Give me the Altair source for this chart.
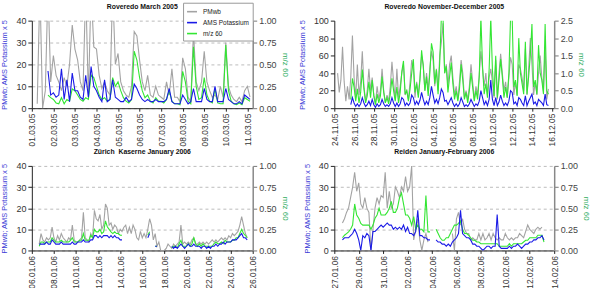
import altair as alt
import pandas as pd

FONT = "Liberation Sans"
GRAY = "#a3a3a3"
BLUE = "#1a1ae6"
GREEN = "#33e633"
TITLE_BLUE = "#3a3ad6"
TITLE_GREEN = "#2fae5f"

NAMES = ["PMwb", "AMS Potassium", "m/z 60"]
LEFT_TITLE = "PMwb; AMS Potassium x 5"
RIGHT_TITLE = "m/z 60"

# ---------------- Panel 1: Roveredo March 2005 (3-hour steps from 01.03.05 00:00)
p1_title = "Roveredo March 2005"
p1_start = "2005-03-01 00:00"
p1_step_h = 3
p1_pm = [
    None, None, 2, 55, 0, 8, 55, 12,
    24, 15, 12, 8, 14, 10, 20, 38,
    27, 22, 12, 8, 55, 5, 55, 28,
    27, 15, 9, 12, 8, 6, 55, 20,
    25, 12, 8, 6, 5, 10, 35, 33,
    22, 12, 8, 15, 6, 5, 10, 6,
    5, 4, 12, 6, 18, 5, 5, 3,
    23, 18, 5, 3, 35, 12, 8, 12,
    26, 12, 8, 5, 6, 4, 10, 5,
    30, 10, 6, 4, 3, 5, 3, 8,
    10, 5]
p1_k = [
    None, None, None, None, None, None, 17, 6,
    7, 5, 6, 18, 4, 13, 3, 16,
    8, 8, 5, 4, 15, 5, 19, 10,
    8, 5, 3, 13, 3, 4, 13, 5,
    4, 3, 3, 5, 3, 4, 11, 9,
    6, 4, 3, 4, 3, 3, 4, 3,
    3, 3, 4, 9, 3, 2, 2, 2,
    6, 4, 2, 3, 9, 3, 3, 3,
    9, 4, 3, 3, 10, 3, 3, 3,
    9, 4, 3, 2, 2, 3, 2, 6,
    5, 4]
p1_mz = [
    None, None, None, None, None, None, 0.15, 0.12,
    0.10, 0.06, 0.05, 0.12, 0.05, 0.10, 0.08, 0.22,
    0.20, 0.15, 0.10, 0.08, 0.12, 0.10, 0.38, 0.35,
    0.25, 0.15, 0.10, 0.12, 0.08, 0.10, 0.35, 0.25,
    0.30, 0.20, 0.12, 0.08, 0.06, 0.10, 0.65, 0.55,
    0.35, 0.20, 0.12, 0.15, 0.08, 0.06, 0.12, 0.08,
    0.08, 0.06, 0.10, 0.20, 0.08, 0.05, 0.05, 0.04,
    0.42, 0.30, 0.08, 0.05, 0.70, 0.25, 0.10, 0.12,
    0.35, 0.15, 0.08, 0.06, 0.22, 0.06, 0.05, 0.05,
    0.72, 0.20, 0.08, 0.05, 0.04, 0.06, 0.04, 0.12,
    0.10, 0.08]
p1_xdomain = ["2005-03-01 00:00", "2005-03-11 06:00"]
p1_xticks = ["2005-03-01", "2005-03-02", "2005-03-03", "2005-03-04", "2005-03-05",
             "2005-03-06", "2005-03-07", "2005-03-08", "2005-03-09", "2005-03-10",
             "2005-03-11"]

# ---------------- Panel 2: Roveredo November-December 2005 (4-hour steps)
p2_title = "Roveredo November-December 2005"
p2_start = "2005-11-24 00:00"
p2_step_h = 4
p2_pm = [
    None, None, 40, 18, 32, 70,
    30, 8, 25, 10, 35, 83,
    35, 12, 50, 15, 30, 65,
    25, 8, 20, 45, 20, 35,
    15, 5, 25, 10, 20, 45,
    20, 6, 15, 8, 25, 53,
    30, 10, 45, 12, 25, 40,
    50, 15, 20, 10, 30, 55,
    45, 12, 30, 15, 35, 60,
    50, 20, 40, 20, 45, 65,
    55, 25, 45, 20, 60, 75,
    97, 40, 50, 25, 50, 60,
    35, 15, 25, 10, 30, 55,
    40, 12, 20, 10, 25, 50,
    30, 10, 25, 15, 38, 65,
    45, 25, 40, 15, 35, 45,
    30, 12, 55, 10, 40, 62,
    40, 20, 30, 12, 35, 58,
    50, 15, 30, 15, 50, 45,
    35, 20, 68, 15, 45, 80,
    50, 15, 30, 15, 40, 60,
    35, 20, 70, 10, 22, None]
p2_k = [
    None, None, None, None, None, None,
    None, None, None, None, 4, 12,
    6, 2, 5, 2, 5, 12,
    6, 2, 4, 8, 3, 10,
    4, 1, 5, 2, 4, 10,
    5, 2, 4, 2, 5, 12,
    6, 2, 6, 2, 5, 12,
    10, 3, 6, 3, 6, 15,
    12, 4, 8, 4, 9, 18,
    10, 4, 8, 4, 12, 25,
    15, 6, 10, 5, 12, 22,
    18, 8, 9, 4, 8, 12,
    6, 2, 5, 2, 5, 12,
    7, 2, 4, 2, 5, 10,
    6, 2, 5, 3, 8, 20,
    12, 4, 8, 3, 10, 32,
    10, 3, 12, 3, 7, 15,
    8, 3, 6, 3, 8, 20,
    18, 5, 7, 3, 12, 10,
    6, 3, 14, 3, 8, 12,
    16, 5, 7, 3, 10, 8,
    6, 3, 16, 4, 3, None]
p2_mz = [
    None, None, None, None, None, None,
    None, None, None, None, 0.25, 0.85,
    0.60, 0.20, 0.55, 0.15, 0.45, 1.10,
    0.55, 0.15, 0.35, 0.75, 0.30, 0.80,
    0.35, 0.10, 0.40, 0.15, 0.35, 0.90,
    0.45, 0.15, 0.30, 0.12, 0.40, 0.85,
    0.50, 0.20, 0.60, 0.15, 0.45, 1.05,
    1.35, 0.40, 0.50, 0.20, 0.55, 1.00,
    1.40, 0.45, 0.70, 0.30, 0.80, 1.65,
    1.20, 0.50, 0.90, 0.35, 1.00, 1.85,
    1.60, 0.70, 1.10, 0.40, 1.30, 2.60,
    2.60, 1.00, 1.20, 0.45, 0.90, 1.30,
    0.70, 0.25, 0.50, 0.20, 0.55, 1.25,
    0.80, 0.25, 0.45, 0.15, 0.50, 1.00,
    0.60, 0.20, 0.50, 0.25, 0.90, 2.60,
    1.20, 0.40, 0.70, 0.30, 1.10, 2.60,
    1.10, 0.35, 1.50, 0.30, 0.80, 1.40,
    0.90, 0.30, 0.60, 0.30, 1.00, 2.60,
    2.60, 0.60, 0.80, 0.35, 2.00, 1.00,
    0.70, 0.40, 1.90, 0.40, 0.90, 1.50,
    2.40, 0.60, 0.80, 0.40, 1.80, 1.00,
    0.80, 0.40, 2.40, 0.50, 0.40, None]
p2_xdomain = ["2005-11-24 00:00", "2005-12-16 06:00"]
p2_xticks = ["2005-11-24", "2005-11-26", "2005-11-28", "2005-11-30", "2005-12-02",
             "2005-12-04", "2005-12-06", "2005-12-08", "2005-12-10", "2005-12-12",
             "2005-12-14", "2005-12-16"]

# ---------------- Panel 3: Zürich Kaserne January 2006 (4-hour steps)
p3_title = "Zürich\u00a0 Kaserne January 2006"
p3_start = "2006-01-06 00:00"
p3_step_h = 4
p3_pm = [
    None, None, None, None, 3, 8,
    5, 4, 6, 5, 6, 11,
    6, 4, 7, 5, 8, 6,
    5, 4, 6, 5, 12, 5,
    4, 4, 5, 6, 18, 6,
    5, 4, 8, 6, 19, 15,
    14, 17, 10, 12, 22, 20,
    12, 13, 10, 12, 11, 8,
    10, 9, 11, 12, 8, 11,
    8, 12, 10, 6, 5, 9,
    6, 8, 6, 10, 15, 12,
    5, 8, 2, 4, 0, 0,
    0, 1, 3, 2, 1, 3,
    2, 3, 4, 12, 3, 4,
    3, 4, 3, 5, 6, 3,
    3, 4, 3, 4, 3, 4,
    3, 4, 5, 4, 5, 4,
    5, 6, 5, 6, 5, 7,
    6, 8, 7, 8, 9, 12,
    16, 12, 8, 6, None, None]
p3_k = [
    None, None, None, None, 3, 3,
    3, 3, 4, 3, 3, 5,
    4, 3, 3, 3, 4, 3,
    3, 3, 3, 3, 4, 3,
    3, 4, 4, 4, 5, 4,
    4, 4, 5, 5, 7, 7,
    6, 7, 6, 7, 7, 7,
    6, 7, 6, 7, 6, 6,
    5, 5, None, None, None, None,
    None, None, None, None, None, None,
    None, None, None, 6, 8, None,
    None, 2, 2, None, None, None,
    None, None, None, None, 2, 1,
    2, 1, 2, 3, 2, 1,
    2, 3, 2, 2, 3, 2,
    2, 2, 1, 2, 2, 1,
    2, 1, 2, 2, 3, 2,
    3, 3, 4, 3, 4, 4,
    4, 5, 5, 5, 6, 7,
    8, 6, 6, 5, None, None]
p3_mz = [
    None, None, None, None, 0.05, 0.10,
    0.10, 0.08, 0.10, 0.10, 0.10, 0.15,
    0.12, 0.10, 0.10, 0.10, 0.12, 0.10,
    0.10, 0.10, 0.10, 0.12, 0.15, 0.10,
    0.10, 0.10, 0.12, 0.12, 0.20, 0.12,
    0.12, 0.12, 0.18, 0.15, 0.25, 0.22,
    0.22, 0.25, 0.20, 0.22, 0.35, 0.28,
    0.25, 0.22, 0.20, 0.22, 0.20, 0.20,
    0.18, 0.18, None, None, None, None,
    None, None, None, None, None, None,
    None, None, None, 0.18, 0.22, None,
    None, 0.05, 0.05, None, None, None,
    None, None, None, None, 0.03, 0.05,
    0.05, 0.03, 0.08, 0.12, 0.05, 0.05,
    0.05, 0.08, 0.05, 0.08, 0.15, 0.08,
    0.05, 0.08, 0.05, 0.08, 0.05, 0.05,
    0.05, 0.05, 0.05, 0.08, 0.10, 0.08,
    0.08, 0.10, 0.08, 0.12, 0.10, 0.10,
    0.10, 0.12, 0.12, 0.15, 0.15, 0.20,
    0.25, 0.20, 0.18, 0.15, None, None]
p3_xdomain = ["2006-01-06 00:00", "2006-01-26 00:00"]
p3_xticks = ["2006-01-06", "2006-01-08", "2006-01-10", "2006-01-12", "2006-01-14",
             "2006-01-16", "2006-01-18", "2006-01-20", "2006-01-22", "2006-01-24",
             "2006-01-26"]

# ---------------- Panel 4: Reiden January-February 2006 (4-hour steps)
p4_title = "Reiden January-February 2006"
p4_start = "2006-01-27 00:00"
p4_step_h = 4
p4_pm = [
    None, None, None, None, 13, 15,
    18, 20, 25, 30, 37, 28,
    32, 22, 20, 25, 20, 18,
    0, 10, 20, 25, 22, 26,
    25, 37, 20, 28, 20, 22,
    30, 28, 25, 30, 28, 35,
    28, 30, 40, 5, 10, 15,
    5, 0, 5, 8, 4, None,
    None, None, None, None, None, None,
    None, None, None, None, 8, 0,
    15, 18, 12, 15, 10, 8,
    8, 5, 6, 5, 5, 8,
    5, 8, 5, 6, 8, 5,
    8, 6, 5, 6, 5, 5,
    8, 6, 5, 6, 5, 6,
    6, 8, 7, 6, 9, 12,
    10, 9, 8, 10, 11, 10,
    11, None]
p4_k = [
    None, None, None, None, 5, 6,
    6, 6, 7, 8, 10, 8,
    5, 0, 7, 6, 8, 7,
    0, 9, 9, 10, 11, 12,
    11, 12, 13, 12, 12, 10,
    11, 10, 11, 10, 12, 9,
    11, 8, 8, 7, 9, 19,
    7, 7, 6, 6, 5, 5,
    None, None, 5, 4, 4, 3,
    3, 2, 3, 2, 4, 5,
    6, 8, 19, 8, 7, 6,
    6, 5, 3, 3, 2, 2,
    1, 0, 1, 2, 2, 1,
    2, 2, 17, 2, 1, 1,
    1, 1, 2, 1, 2, 2,
    3, 2, 1, 2, 3, 3,
    4, 4, 5, 5, 6, 6,
    7, 5]
p4_mz = [
    None, None, None, None, 0.15, 0.18,
    0.20, 0.22, 0.25, 0.30, 0.55, 0.42,
    0.38, 0.32, 0.30, 0.30, 0.30, 0.30,
    0.25, 0.30, 0.38, 0.42, 0.50, 0.42,
    0.42, 0.42, 0.45, 0.50, 0.58, 0.45,
    0.45, 0.50, 0.62, 0.68, 0.55, 0.42,
    0.42, 0.38, 0.30, 0.40, 0.25, 0.30,
    0.25, 0.25, 0.22, 0.65, 0.22, 0.22,
    None, None, 0.25, 0.20, 0.15, 0.12,
    0.12, 0.15, 0.15, 0.20, 0.25, 0.30,
    0.30, 0.32, 0.35, 0.25, 0.20, 0.20,
    0.18, 0.15, 0.12, 0.12, 0.10, 0.10,
    0.08, 0.08, 0.08, 0.08, 0.08, 0.08,
    0.08, 0.08, 0.08, 0.05, 0.05, 0.05,
    0.05, 0.05, 0.08, 0.05, 0.08, 0.08,
    0.08, 0.08, 0.08, 0.10, 0.12, 0.12,
    0.15, 0.15, 0.15, 0.15, 0.18, 0.18,
    0.18, 0.10]
p4_xdomain = ["2006-01-27 00:00", "2006-02-14 00:00"]
p4_xticks = ["2006-01-27", "2006-01-29", "2006-01-31", "2006-02-02", "2006-02-04",
             "2006-02-06", "2006-02-08", "2006-02-10", "2006-02-12", "2006-02-14"]

left_ticks_40 = [0, 10, 20, 30, 40]
left_ticks_100 = [0, 20, 40, 60, 80, 100]
right_ticks_1 = [0, 0.25, 0.5, 0.75, 1.0]
right_ticks_25 = [0, 0.5, 1.0, 1.5, 2.0, 2.5]


def ms(s):
    return int(pd.Timestamp(s).value // 1_000_000)


def series_df(start, step_h, values, name):
    t0 = pd.Timestamp(start)
    rows = [{"t": int((t0 + pd.Timedelta(hours=step_h * i)).value // 1_000_000),
             "v": v, "s": name} for i, v in enumerate(values)]
    return alt.Data(values=rows)


LEGEND = alt.Legend(orient="none", legendX=152, legendY=-18, title=None,
                    symbolType="stroke", symbolStrokeWidth=1.6, symbolSize=100,
                    labelFontSize=6.5, labelFont=FONT, labelColor="#222",
                    fillColor="white", strokeColor="#999", padding=3,
                    rowPadding=1, labelOffset=5)


def panel(title, start, step, pm, k, mz, xdom, xticks, ymax, yticks,
          y2max, y2ticks, y2fmt, grid, w, h):
    xenc = alt.X(
        "t:T",
        scale=alt.Scale(type="utc", domain=[ms(xdom[0]), ms(xdom[1])]),
        axis=alt.Axis(values=[ms(d) for d in xticks],
                      labelExpr="utcFormat(datum.value, '%d.%m.%y')",
                      labelAngle=270, labelAlign="right", labelBaseline="middle",
                      title=None, grid=False,
                      tickSize=3, labelFontSize=8.5, labelColor="#333",
                      domainColor="#222", tickColor="#222", labelPadding=2,
                      labelFont=FONT, labelOverlap=False, labelFlush=False),
    )
    cscale = alt.Scale(domain=NAMES, range=[GRAY, BLUE, GREEN])
    color = alt.Color("s:N", scale=cscale, legend=LEGEND)
    yl = alt.Y("v:Q", scale=alt.Scale(domain=[0, ymax], nice=False),
               axis=alt.Axis(orient="left", values=yticks, title=LEFT_TITLE,
                             titleColor=TITLE_BLUE, titleFontSize=7.5,
                             titleFont=FONT, titleFontWeight="normal",
                             titlePadding=7, labelFontSize=9, labelFont=FONT,
                             labelColor="#333", tickSize=4, tickColor="#222",
                             domainColor="#222", labelPadding=2, grid=grid,
                             gridDash=[3, 3], gridColor="#bbbbbb"))
    yl_hidden = alt.Y("v:Q", scale=alt.Scale(domain=[0, ymax], nice=False), axis=None)
    yr = alt.Y("v:Q", scale=alt.Scale(domain=[0, y2max], nice=False),
               axis=alt.Axis(orient="right", values=y2ticks, format=y2fmt,
                             title=RIGHT_TITLE, titleColor=TITLE_GREEN,
                             titleFontSize=8, titleFont=FONT,
                             titleFontWeight="normal", titlePadding=4,
                             labelFontSize=9, labelFont=FONT, labelColor="#444",
                             tickSize=4, tickColor="#777", domainColor="#888",
                             domainWidth=1.5, labelPadding=2, grid=False))
    g = alt.Chart(series_df(start, step, pm, NAMES[0])).mark_line(
        clip=True, strokeWidth=1.1).encode(x=xenc, y=yl, color=color)
    gr = alt.Chart(series_df(start, step, mz, NAMES[2])).mark_line(
        clip=True, strokeWidth=1.1).encode(x=xenc, y=yr, color=color)
    b = alt.Chart(series_df(start, step, k, NAMES[1])).mark_line(
        clip=True, strokeWidth=1.1).encode(x=xenc, y=yl_hidden, color=color)
    return alt.layer(g, gr, b).resolve_scale(y="independent").properties(
        width=w, height=h,
        title=alt.TitleParams(title, fontSize=6.9, font=FONT, fontWeight="bold",
                              color="#111", offset=6))


p1 = panel(p1_title, p1_start, p1_step_h, p1_pm, p1_k, p1_mz, p1_xdomain, p1_xticks,
           40, left_ticks_40, 1.0, right_ticks_1, ".2f", True, 222, 88)
p2 = panel(p2_title, p2_start, p2_step_h, p2_pm, p2_k, p2_mz, p2_xdomain, p2_xticks,
           100, left_ticks_100, 2.5, right_ticks_25, ".1f", False, 221, 88)
p3 = panel(p3_title, p3_start, p3_step_h, p3_pm, p3_k, p3_mz, p3_xdomain, p3_xticks,
           40, left_ticks_40, 1.0, right_ticks_1, ".2f", True, 222, 85)
p4 = panel(p4_title, p4_start, p4_step_h, p4_pm, p4_k, p4_mz, p4_xdomain, p4_xticks,
           40, left_ticks_40, 1.0, right_ticks_1, ".2f", True, 221, 85)

chart = alt.concat(p1, p2, p3, p4, columns=2, spacing={"row": 1, "column": 9}).configure(
    font=FONT, padding={"left": 0, "top": 1, "right": 0, "bottom": 0}
).configure_view(stroke=None)

chart.save("out.html", embed_options={"renderer": "svg", "actions": False})
